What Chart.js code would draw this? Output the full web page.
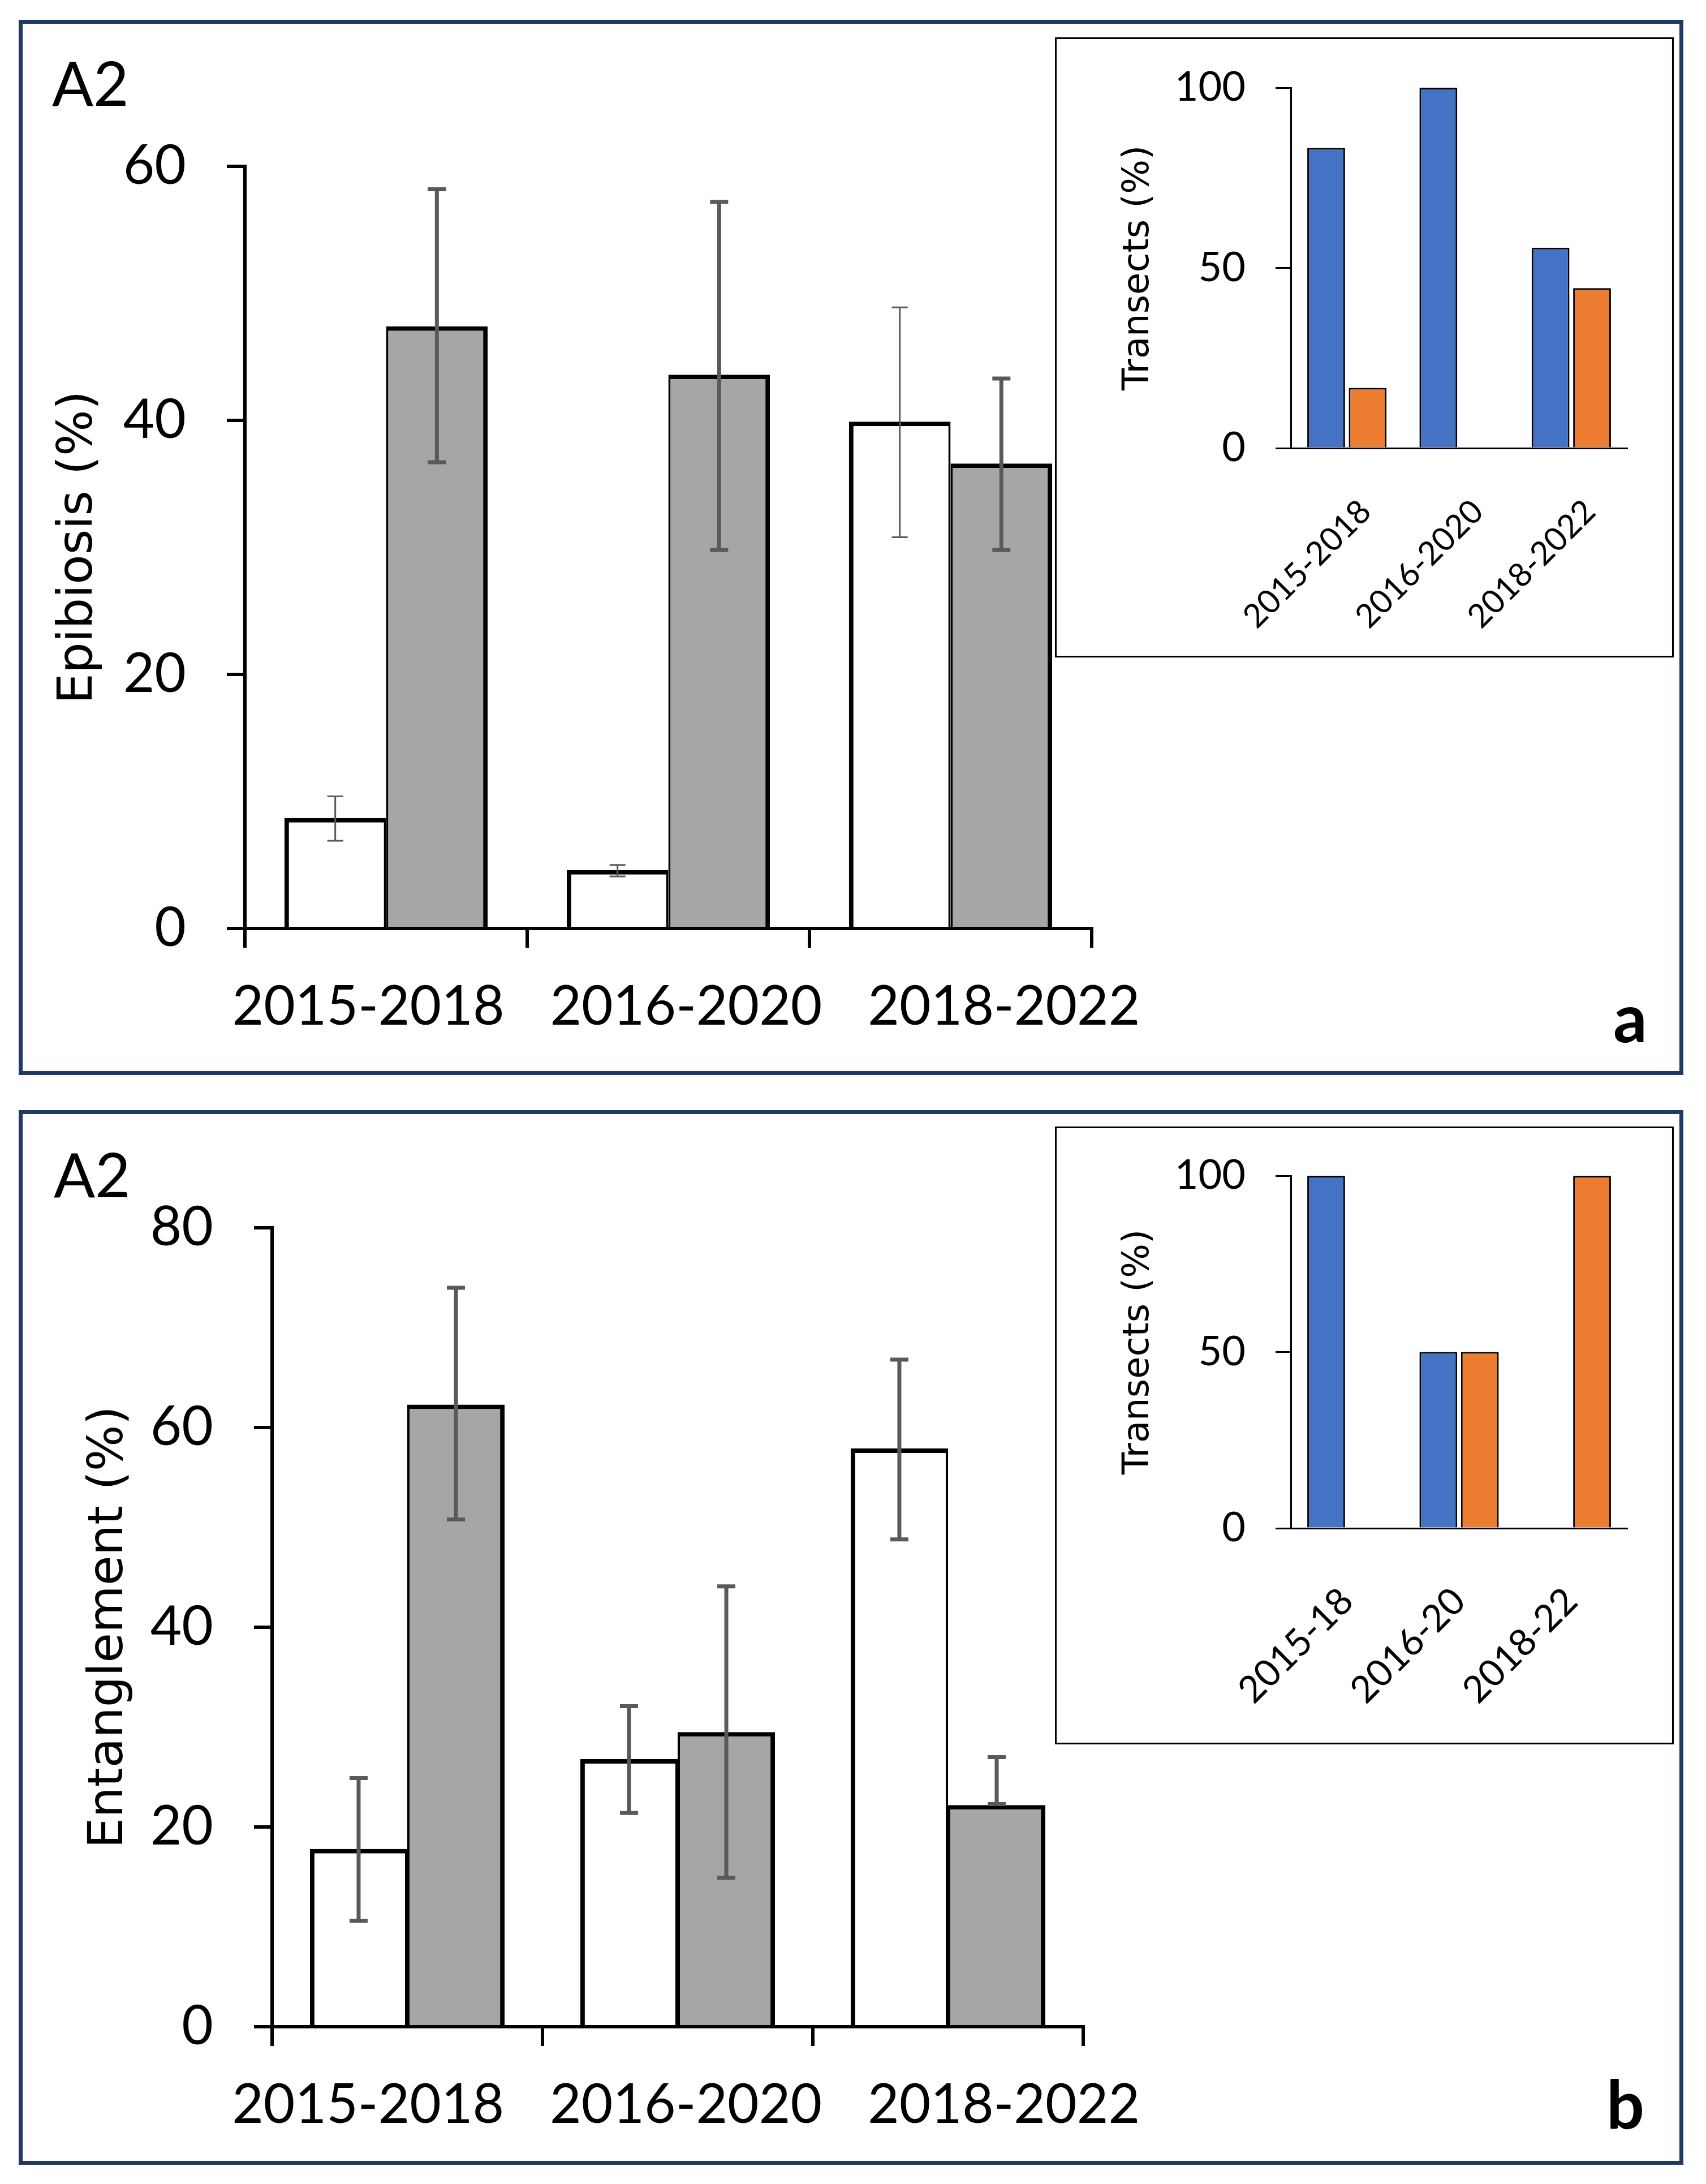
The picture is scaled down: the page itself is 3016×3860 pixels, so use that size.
<!DOCTYPE html>
<html>
<head>
<meta charset="utf-8">
<script src="https://cdn.jsdelivr.net/npm/chart.js@4.4.1/dist/chart.umd.min.js"></script>
<style>
    body { margin: 0; background: #fff; }
    #page { position: relative; width: 3016px; height: 3860px; background: #fff; overflow: hidden; }
    canvas { position: absolute; }
    .frame { position: absolute; box-sizing: border-box; border: 7px solid #1F3864; }
    .inset { position: absolute; box-sizing: border-box; border: 3px solid #000; background: #fff; }
    .tag { position: absolute; font-family: Lato, sans-serif; line-height: 1; color: #000; white-space: nowrap; }
</style>
</head>
<body>
<div id="page">
    <div class="frame" style="left:33px; top:35px; width:2943px; height:1865px;"></div>
    <div class="frame" style="left:33px; top:1962px; width:2943px; height:1864px;"></div>

    <canvas id="mainA" width="2400" height="1845" style="left:40px; top:42px;"></canvas>
    <canvas id="mainB" width="2400" height="1848" style="left:40px; top:1970px;"></canvas>

    <div class="inset" style="left:1865px; top:66px; width:1094px; height:1096px;"></div>
    <div class="inset" style="left:1865px; top:1991px; width:1094px; height:1092px;"></div>
    <canvas id="insetA" width="1084" height="1085" style="left:1870px; top:71px;"></canvas>
    <canvas id="insetB" width="1084" height="1082" style="left:1870px; top:1996px;"></canvas>

    <div class="tag" style="left:92px; top:91px; font-size:108px;">A2</div>
    <div class="tag" style="left:95px; top:2020px; font-size:108px;">A2</div>
    <div class="tag" style="left:2852px; top:1738px; font-size:118px; font-weight:bold;">a</div>
    <div class="tag" style="left:2840px; top:3658px; font-size:118px; font-weight:bold;">b</div>
</div>

<script>
// Categories
const periods = ["2015-2018", "2016-2020", "2018-2022"];
const periodsShort = ["2015-18", "2016-20", "2018-22"];

// Panel a: epibiosis (%), white and grey bars with error bar ends
const epiWhite = [8.7, 4.6, 39.9];
const epiWhiteHi = [10.4, 5.0, 48.9];
const epiWhiteLo = [6.9, 4.1, 30.8];
const epiGrey = [47.4, 43.6, 36.6];
const epiGreyHi = [58.2, 57.2, 43.3];
const epiGreyLo = [36.7, 29.8, 29.8];

// Panel b: entanglement (%)
const entWhite = [17.8, 26.8, 57.9];
const entWhiteHi = [24.9, 32.1, 66.8];
const entWhiteLo = [10.6, 21.4, 48.8];
const entGrey = [62.3, 29.5, 22.2];
const entGreyHi = [74.0, 44.1, 27.0];
const entGreyLo = [50.8, 14.9, 22.3];

// Insets: transects (%)
const transAblue = [83.3, 100, 55.6];
const transAorange = [16.7, 0, 44.4];
const transBblue = [100, 50, 0];
const transBorange = [0, 50, 100];

// Axis ticks
const epiTicks = [0, 20, 40, 60];
const entTicks = [0, 20, 40, 60, 80];
const transTicks = [0, 50, 100];

const ERR_COLOR = "#595959";

// Draws error bars from the errHi / errLo arrays stored on each dataset
const errorBars = {
    id: "errorBars",
    afterDatasetsDraw(chart) {
        const ctx = chart.ctx;
        const y = chart.scales.y;
        chart.data.datasets.forEach((ds, i) => {
            if (!ds.errHi) return;
            const meta = chart.getDatasetMeta(i);
            meta.data.forEach((bar, j) => {
                const top = y.getPixelForValue(ds.errHi[j]);
                const bottom = y.getPixelForValue(ds.errLo[j]);
                const cap = ds.errCap;
                ctx.save();
                ctx.strokeStyle = ERR_COLOR;
                ctx.lineWidth = ds.errWidth;
                ctx.lineCap = "butt";
                ctx.beginPath();
                ctx.moveTo(bar.x, top);
                ctx.lineTo(bar.x, bottom);
                ctx.moveTo(bar.x - cap, top);
                ctx.lineTo(bar.x + cap, top);
                ctx.moveTo(bar.x - cap, bottom);
                ctx.lineTo(bar.x + cap, bottom);
                ctx.stroke();
                ctx.restore();
            });
        });
    },
};

// y axis: fixed width, and no extra padding so the plot box follows layout.padding
function fixY(width) {
    return function (s) {
        s.width = width;
        s.paddingTop = 0;
        s.paddingBottom = 0;
    };
}

// Main bar chart (white vs grey bars)
function mainChart(id, o) {
    const ctx = document.getElementById(id).getContext("2d");
    return new Chart(ctx, {
        type: "bar",
        data: {
            labels: periods,
            datasets: [
                {
                    data: o.white,
                    backgroundColor: "#ffffff",
                    borderColor: "#000000",
                    borderWidth: { top: 8, left: 8, right: 4, bottom: 0 },
                    errHi: o.whiteHi, errLo: o.whiteLo,
                    errWidth: o.whiteErrWidth, errCap: o.whiteErrCap,
                },
                {
                    data: o.grey,
                    backgroundColor: "#a6a6a6",
                    borderColor: "#000000",
                    borderWidth: { top: 8, left: 4, right: 8, bottom: 0 },
                    errHi: o.greyHi, errLo: o.greyLo,
                    errWidth: 7, errCap: 16,
                },
            ],
        },
        options: {
            responsive: false,
            animation: false,
            devicePixelRatio: 1,
            categoryPercentage: 0.72,
            barPercentage: 1.0,
            layout: { padding: o.padding },
            plugins: { legend: { display: false }, tooltip: { enabled: false } },
            scales: {
                x: {
                    weight: 0,
                    grid: { drawOnChartArea: false, drawTicks: true, tickLength: 34, color: "#000", lineWidth: 6 },
                    border: { color: "#000", width: 6 },
                    ticks: { display: false },
                    afterFit(s) { s.height = 40; s.paddingLeft = 0; s.paddingRight = 0; },
                },
                // second bottom axis only carries the period labels (spaced as in the figure)
                x2: {
                    type: "linear",
                    position: "bottom",
                    weight: 1,
                    offset: false,
                    min: o.labelMin,
                    max: o.labelMax,
                    afterBuildTicks(s) { s.ticks = periods.map((p, i) => ({ value: i })); },
                    grid: { display: false, offset: false },
                    border: { display: false },
                    ticks: {
                        callback: (v, i) => periods[i],
                        font: { family: "Lato", size: 96 },
                        color: "#000",
                        padding: 33,
                        maxRotation: 0,
                        autoSkip: false,
                    },
                    afterFit(s) { s.height = o.labelHeight; s.paddingLeft = 0; s.paddingRight = 0; },
                },
                y: {
                    min: 0,
                    max: o.ticks[o.ticks.length - 1],
                    afterBuildTicks(s) { s.ticks = o.ticks.map(v => ({ value: v })); },
                    grid: { drawOnChartArea: false, drawTicks: true, tickLength: 32, color: "#000", lineWidth: 6 },
                    border: { color: "#000", width: 6 },
                    ticks: { font: { family: "Lato", size: 96 }, color: "#000", padding: 72 },
                    title: {
                        display: true,
                        text: o.title,
                        font: { family: "DejaVu Sans", size: 86 },
                        color: "#000",
                        padding: 0,
                    },
                    afterFit: fixY(o.yWidth),
                },
            },
        },
        plugins: [errorBars],
    });
}

// Inset chart (blue vs orange)
function insetChart(id, o) {
    const ctx = document.getElementById(id).getContext("2d");
    return new Chart(ctx, {
        type: "bar",
        data: {
            labels: o.labels,
            datasets: [
                { data: o.blue, backgroundColor: "#4472c4", borderColor: "#000", borderWidth: 3 },
                { data: o.orange, backgroundColor: "#ed7d31", borderColor: "#000", borderWidth: 3 },
            ],
        },
        options: {
            responsive: false,
            animation: false,
            devicePixelRatio: 1,
            categoryPercentage: 0.74,
            barPercentage: 0.91,
            layout: { padding: o.padding },
            plugins: { legend: { display: false }, tooltip: { enabled: false } },
            scales: {
                x: {
                    grid: { display: false },
                    border: { color: "#000", width: 3 },
                    ticks: {
                        font: { family: "Lato", size: o.labelSize },
                        color: "#000",
                        minRotation: 45,
                        maxRotation: 45,
                        padding: o.labelPad,
                        labelOffset: o.labelOffset,
                        autoSkip: false,
                    },
                    afterFit(s) { s.height = o.xHeight; s.paddingLeft = 0; s.paddingRight = 0; },
                },
                y: {
                    min: 0,
                    max: 100,
                    afterBuildTicks(s) { s.ticks = transTicks.map(v => ({ value: v })); },
                    grid: { drawOnChartArea: false, drawTicks: true, tickLength: 27, color: "#000", lineWidth: 3 },
                    border: { color: "#000", width: 3 },
                    ticks: { font: { family: "Lato", size: 72 }, color: "#000", padding: 53 },
                    title: {
                        display: true,
                        text: "Transects (%)",
                        font: { family: "DejaVu Sans", size: 64 },
                        color: "#000",
                        padding: 0,
                    },
                    afterFit: fixY(307),
                },
            },
        },
    });
}

function renderAll() {
    mainChart("mainA", {
        white: epiWhite, whiteHi: epiWhiteHi, whiteLo: epiWhiteLo,
        grey: epiGrey, greyHi: epiGreyHi, greyLo: epiGreyLo,
        whiteErrWidth: 3, whiteErrCap: 14,
        ticks: epiTicks,
        title: "Epibiosis (%)",
        padding: { left: 48, top: 252, right: 510, bottom: 0 },
        yWidth: 345,
        labelHeight: 206,
        labelMin: -0.388, labelMax: 2.276,
    });
    mainChart("mainB", {
        white: entWhite, whiteHi: entWhiteHi, whiteLo: entWhiteLo,
        grey: entGrey, greyHi: entGreyHi, greyLo: entGreyLo,
        whiteErrWidth: 7, whiteErrCap: 16,
        ticks: entTicks,
        title: "Entanglement (%)",
        padding: { left: 102, top: 200, right: 525, bottom: 0 },
        yWidth: 339,
        labelHeight: 196,
        labelMin: -0.302, labelMax: 2.250,
    });
    insetChart("insetA", {
        labels: periods, blue: transAblue, orange: transAorange,
        padding: { left: 105, top: 84, right: 77, bottom: 0 },
        xHeight: 364, labelSize: 58, labelPad: 70, labelOffset: 33,
    });
    insetChart("insetB", {
        labels: periodsShort, blue: transBblue, orange: transBorange,
        padding: { left: 105, top: 82, right: 77, bottom: 0 },
        xHeight: 377, labelSize: 66, labelPad: 82, labelOffset: 0,
    });
}

// Make sure the fonts are ready before the canvases measure text
Promise.all([
    document.fonts.load("96px Lato"),
    document.fonts.load("86px 'DejaVu Sans'"),
]).then(renderAll, renderAll);
</script>
</body>
</html>
